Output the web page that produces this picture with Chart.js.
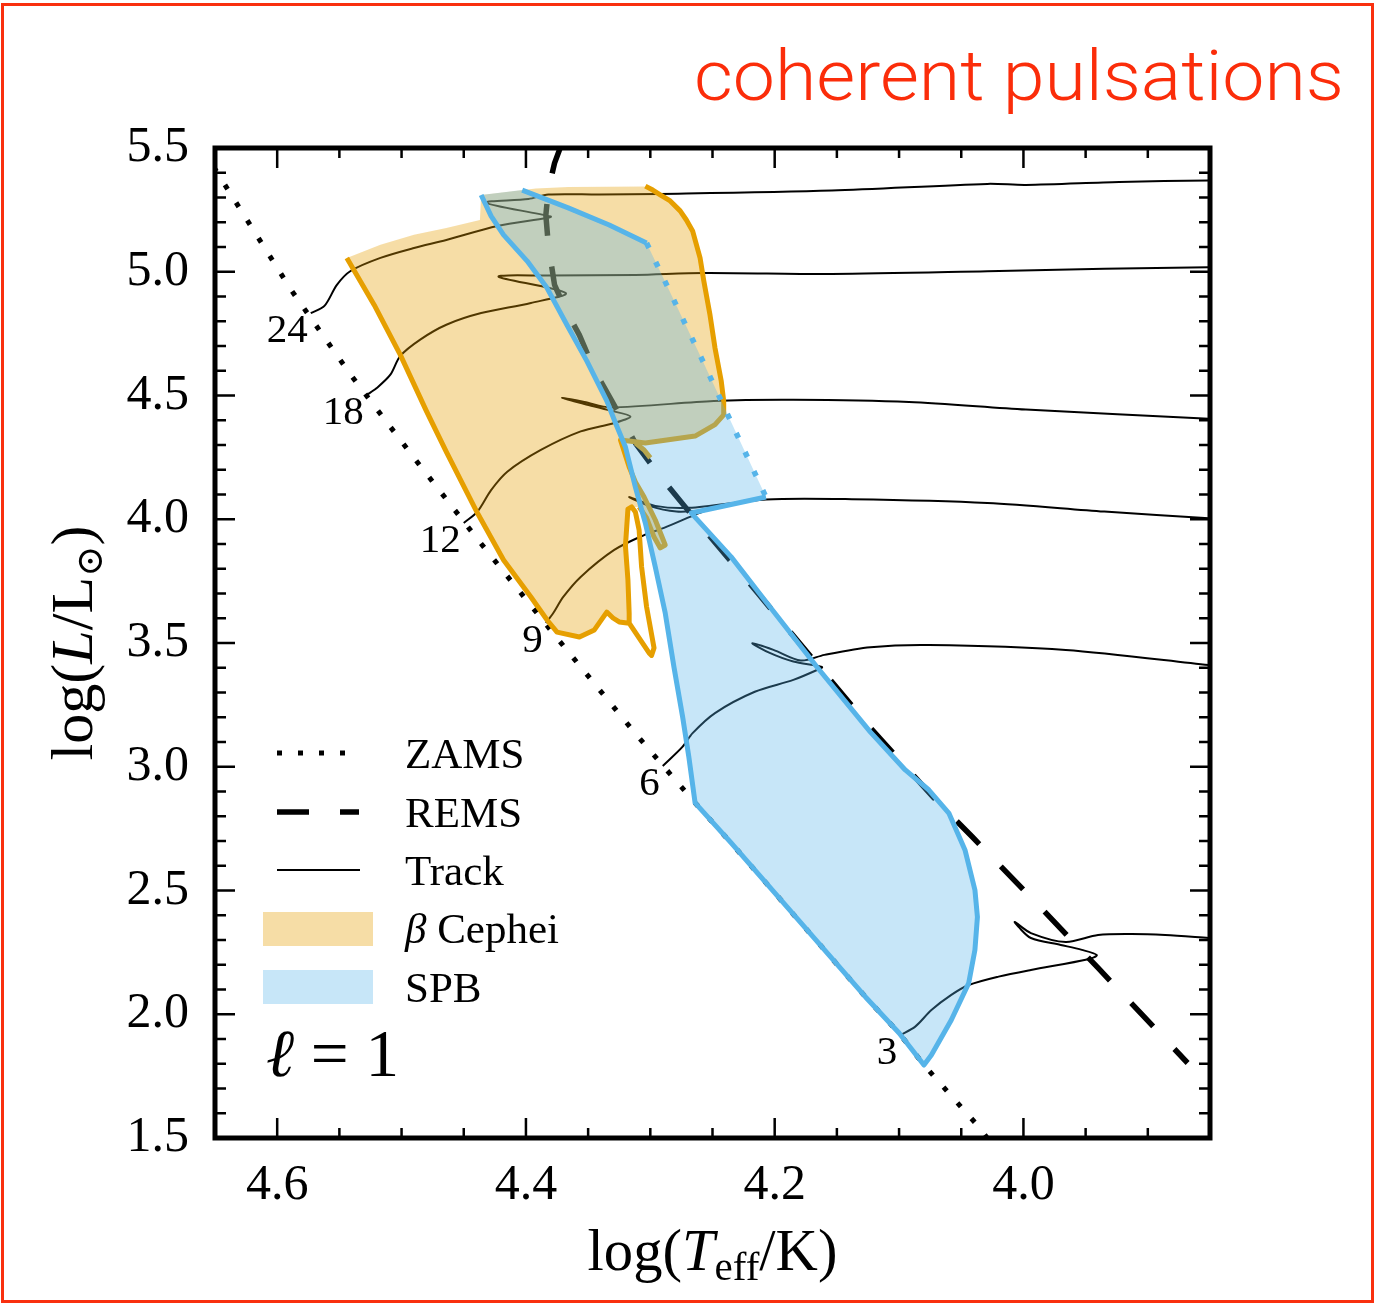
<!DOCTYPE html>
<html>
<head>
<meta charset="utf-8">
<script src="https://cdn.jsdelivr.net/npm/chart.js@4.4.1/dist/chart.umd.min.js"></script>
<style>
  html, body { margin: 0; padding: 0; background: #fff; }
  #wrap { position: relative; width: 1378px; height: 1306px; overflow: hidden; background: #fff; }
  #hr { position: absolute; left: 0; top: 0; }
  #frame { position: absolute; left: 1px; top: 3px; width: 1373px; height: 1300px;
           box-sizing: border-box; border: 3px solid #f9300f; pointer-events: none; }
</style>
</head>
<body>
<div id="wrap">
  <canvas id="hr" width="1378" height="1306"></canvas>
  <div id="frame"></div>
</div>
<script>
// ---- axis ticks ----
const xTicks = [4.6, 4.4, 4.2, 4.0];
const yTicks = [1.5, 2.0, 2.5, 3.0, 3.5, 4.0, 4.5, 5.0, 5.5];

// ---- reference lines: [log Teff, log L] ----
const zams = [[4.651,5.423],[4.643,5.359],[4.589,4.928],[4.541,4.584],[4.490,4.248],[4.439,3.920],
  [4.375,3.520],[4.311,3.128],[4.264,2.854],[4.235,2.692],[4.181,2.381],[4.127,2.070],[4.100,1.924],
  [4.080,1.795],[4.035,1.540],[4.028,1.492]];

const rems = [[4.371,5.520],[4.377,5.439],[4.382,5.330],[4.384,5.229],[4.382,5.108],[4.377,4.947],
  [4.368,4.846],[4.357,4.744],[4.345,4.603],[4.331,4.478],[4.312,4.308],[4.293,4.179],[4.272,4.050],
  [4.213,3.698],[4.166,3.415],[4.123,3.157],[4.072,2.874],[4.041,2.716],[3.988,2.441],[3.940,2.187],[3.868,1.803]];

// ---- evolutionary tracks (masses in solar units) ----
const trackMasses = ['24', '18', '12', '9', '6', '3'];
const track24 = [[4.573,4.833],[4.562,4.862],[4.552,4.947],[4.541,5.003],[4.517,5.056],[4.490,5.096],
  [4.464,5.128],[4.423,5.185],[4.383,5.217],[4.380,5.223],[4.432,5.279],[4.398,5.294],[4.382,5.312],
  [4.341,5.312],[4.292,5.314],[4.154,5.328],[4.029,5.355],[3.998,5.351],[3.923,5.363],[3.851,5.369]];
const track18 = [[4.528,4.502],[4.520,4.530],[4.509,4.584],[4.501,4.660],[4.485,4.726],[4.464,4.786],
  [4.436,4.833],[4.396,4.874],[4.368,4.914],[4.422,4.980],[4.383,4.985],[4.312,4.987],[4.257,4.995],
  [4.154,4.991],[4.029,5.002],[3.935,5.012],[3.851,5.018]];
const track12 = [[4.450,3.985],[4.439,4.031],[4.428,4.118],[4.415,4.192],[4.388,4.280],[4.356,4.355],
  [4.329,4.389],[4.316,4.415],[4.332,4.439],[4.353,4.466],[4.371,4.490],[4.353,4.474],[4.332,4.452],
  [4.249,4.478],[4.185,4.483],[4.092,4.474],[3.998,4.443],[3.851,4.406]];
const track9 = [[4.384,3.581],[4.378,3.621],[4.370,3.686],[4.356,3.767],[4.329,3.876],[4.305,3.936],
  [4.289,3.965],[4.263,4.021],[4.257,4.033],[4.279,4.031],[4.301,4.054],[4.317,4.090],[4.296,4.054],
  [4.269,4.046],[4.207,4.080],[4.138,4.081],[4.029,4.066],[3.935,4.031],[3.851,4.004]];
const track6 = [[4.290,3.003],[4.274,3.081],[4.266,3.136],[4.248,3.217],[4.216,3.303],[4.185,3.351],
  [4.166,3.391],[4.162,3.403],[4.185,3.425],[4.204,3.460],[4.218,3.499],[4.201,3.472],[4.179,3.429],
  [4.160,3.452],[4.123,3.483],[4.076,3.492],[3.966,3.472],[3.851,3.411]];
const track3 = [[4.099,1.916],[4.087,1.950],[4.074,2.017],[4.058,2.078],[4.044,2.118],[4.020,2.152],
  [3.994,2.179],[3.948,2.222],[3.941,2.239],[3.953,2.260],[3.970,2.280],[3.994,2.308],[4.004,2.353],
  [4.007,2.373],[3.994,2.328],[3.966,2.292],[3.940,2.320],[3.913,2.324],[3.886,2.320],[3.851,2.308]];
const tracks = [track24, track18, track12, track9, track6, track3];

// ---- beta Cephei instability region (l = 1) ----
const betaCepArea = [[4.544,5.056],[4.517,5.109],[4.490,5.149],[4.464,5.177],[4.437,5.209],[4.436,5.310],
  [4.392,5.336],[4.366,5.342],[4.305,5.344],[4.298,5.330],[4.292,5.311],[4.284,5.286],[4.276,5.246],
  [4.271,5.209],[4.266,5.165],[4.260,5.056],
  [4.257,4.963],[4.252,4.825],[4.248,4.692],[4.243,4.559],[4.241,4.478],[4.241,4.422],[4.248,4.382],
  [4.264,4.336],[4.304,4.308],[4.324,4.320],[4.317,4.211],[4.312,4.151],[4.305,4.090],[4.296,3.997],
  [4.288,3.896],[4.292,3.884],[4.297,3.928],[4.303,4.005],[4.309,4.050],[4.315,4.050],[4.318,4.041],
  [4.320,3.892],[4.318,3.755],[4.317,3.621],[4.317,3.580],[4.325,3.585],[4.330,3.601],[4.335,3.625],
  [4.345,3.553],[4.357,3.524],[4.375,3.544],[4.383,3.593],[4.396,3.686],[4.418,3.835],[4.439,4.025],
  [4.464,4.272],[4.480,4.437],[4.501,4.664],[4.522,4.866]];
const betaCepEdgeBlue = [[4.544,5.056],[4.522,4.866],[4.501,4.664],[4.480,4.437],[4.464,4.272],
  [4.439,4.025],[4.418,3.835],[4.396,3.686],[4.383,3.593],[4.375,3.544],[4.357,3.524],[4.345,3.553],
  [4.335,3.625],[4.330,3.601],[4.325,3.585],[4.317,3.580],[4.301,3.460],[4.299,3.450],[4.297,3.480],
  [4.303,3.646],[4.307,3.807],[4.309,3.957],[4.312,4.029],[4.315,4.050],[4.318,4.041],[4.320,3.892],
  [4.318,3.755],[4.317,3.621],[4.317,3.580]];
const betaCepEdgeRed = [[4.304,5.346],[4.298,5.330],[4.292,5.311],[4.284,5.286],[4.276,5.246],
  [4.271,5.209],[4.266,5.165],[4.260,5.056],
  [4.257,4.963],[4.252,4.825],[4.248,4.692],[4.243,4.559],[4.241,4.478],[4.241,4.422],[4.248,4.382],
  [4.264,4.336],[4.304,4.308],[4.324,4.320],[4.317,4.211],[4.312,4.151],[4.305,4.090],[4.296,3.997],
  [4.288,3.896],[4.292,3.884],[4.297,3.928],[4.303,4.005],[4.309,4.050]];
const betaCepEdgeHook = [[4.312,4.308],[4.305,4.280],[4.300,4.248]];

// ---- SPB instability region (l = 1) ----
const spbArea = [[4.436,5.310],[4.428,5.225],[4.418,5.149],[4.399,5.043],[4.383,4.934],[4.367,4.785],
  [4.351,4.639],[4.335,4.478],[4.328,4.389],[4.320,4.292],[4.312,4.130],[4.304,3.985],[4.296,3.807],
  [4.288,3.621],[4.281,3.403],[4.274,3.201],[4.269,3.039],[4.264,2.854],[4.235,2.692],[4.181,2.381],
  [4.127,2.070],[4.100,1.924],[4.080,1.795],[4.074,1.835],[4.058,1.977],[4.044,2.126],[4.039,2.260],
  [4.037,2.393],[4.039,2.502],[4.047,2.664],[4.060,2.813],[4.076,2.906],[4.095,2.987],[4.123,3.140],
  [4.166,3.403],[4.210,3.686],[4.235,3.848],[4.267,4.025],[4.207,4.090],[4.231,4.349],[4.259,4.652],
  [4.288,4.959],[4.303,5.116],[4.333,5.189],[4.366,5.258],[4.403,5.330]];
const spbEdgeTop = [[4.403,5.330],[4.366,5.258],[4.333,5.189],[4.303,5.116]];
const spbEdgeDotted = [[4.303,5.116],[4.288,4.959],[4.259,4.652],[4.231,4.349],[4.207,4.090]];
const spbEdgeMain = spbArea.slice(0, 39).reverse();

const legendLabels = ['ZAMS', 'REMS', 'Track', 'β Cephei', 'SPB'];
const modeLabel = [{ t: 'ℓ', italic: true }, { t: ' = 1' }];
const titleText = 'coherent pulsations';

// ---- styles ----
const ORANGE = '#E69F00';
const BLUE = '#56B4E9';
const ORANGE_FILL = 'rgba(230,159,0,0.35)';
const BLUE_FILL = 'rgba(86,180,233,0.33)';
const ZAMS_DASH = [5, 16];
const REMS_DASH = [32, 31];
const serif = '"Liberation Serif", "DejaVu Serif", serif';

const pts = arr => arr.map(([x, y]) => ({ x, y }));
const line = (arr, color, width, extra) => Object.assign({
  data: pts(arr), showLine: true, borderColor: color, borderWidth: width,
  pointRadius: 0, pointHoverRadius: 0, tension: 0, fill: false,
  borderJoinStyle: 'round', borderCapStyle: 'butt'
}, extra || {});

const datasets = [
  line(spbEdgeMain, BLUE, 5, { order: 1 }),
  line(spbEdgeTop, BLUE, 5, { order: 1 }),
  line(spbEdgeDotted, BLUE, 5.5, { order: 1, borderDash: [5.5, 15.5] }),
  { data: pts(spbArea), showLine: false, pointRadius: 0, areaColor: BLUE_FILL, order: 2 },
  line(betaCepEdgeBlue, ORANGE, 5, { order: 3 }),
  line(betaCepEdgeRed, ORANGE, 5, { order: 3 }),
  line(betaCepEdgeHook, ORANGE, 5, { order: 3 }),
  { data: pts(betaCepArea), showLine: false, pointRadius: 0, areaColor: ORANGE_FILL, order: 4 },
  line(rems, '#000', 5.5, { order: 5, borderDash: REMS_DASH }),
  line(zams, '#000', 5, { order: 6, borderDash: ZAMS_DASH }),
  ...tracks.map(t => line(t, '#000', 2, { order: 7, tension: 0.3 }))
];

// closed region fill from the dataset's own point elements
const regionFill = {
  id: 'regionFill',
  beforeDatasetDraw(chart, args) {
    const ds = chart.data.datasets[args.index];
    if (!ds.areaColor) return;
    const { ctx, chartArea: a } = chart;
    const p = args.meta.data;
    ctx.save();
    ctx.beginPath();
    ctx.rect(a.left, a.top, a.right - a.left, a.bottom - a.top);
    ctx.clip();
    ctx.beginPath();
    p.forEach((e, i) => i ? ctx.lineTo(e.x, e.y) : ctx.moveTo(e.x, e.y));
    ctx.closePath();
    ctx.fillStyle = ds.areaColor;
    ctx.fill();
    ctx.restore();
  }
};

function fontOf(p, size) {
  return (p.italic ? 'italic ' : '') + (size * (p.scale || 1)).toFixed(1) + 'px ' + serif;
}
function richWidth(ctx, parts, size) {
  let w = 0;
  for (const p of parts) { ctx.font = fontOf(p, size); w += ctx.measureText(p.t).width; }
  return w;
}
function drawRich(ctx, parts, x, y, size) {
  let cx = x;
  for (const p of parts) {
    ctx.font = fontOf(p, size);
    ctx.fillText(p.t, cx, y + (p.dy || 0) * size);
    cx += ctx.measureText(p.t).width;
  }
}

// spines, inward ticks on all sides, labels, legend, title
const decorations = {
  id: 'decorations',
  afterDatasetsDraw(chart) {
    const { ctx, chartArea: a, scales: { x, y } } = chart;
    ctx.save();
    ctx.strokeStyle = '#000';
    ctx.lineCap = 'butt';
    ctx.lineWidth = 2.5;
    ctx.beginPath();
    for (let k = 78; k <= 92; k++) {
      const px = x.getPixelForValue(k * 0.05);
      const len = k % 4 === 0 ? 20 : 10;
      ctx.moveTo(px, a.bottom); ctx.lineTo(px, a.bottom - len);
      ctx.moveTo(px, a.top); ctx.lineTo(px, a.top + len);
    }
    for (let k = 16; k <= 54; k++) {
      const py = y.getPixelForValue(k * 0.1);
      const len = k % 5 === 0 ? 20 : 11;
      ctx.moveTo(a.left, py); ctx.lineTo(a.left + len, py);
      ctx.moveTo(a.right, py); ctx.lineTo(a.right - len, py);
    }
    ctx.stroke();
    ctx.lineWidth = 5;
    ctx.strokeRect(a.left, a.top, a.right - a.left, a.bottom - a.top);

    // mass labels at the start of each track
    ctx.fillStyle = '#000';
    ctx.textAlign = 'right';
    ctx.textBaseline = 'alphabetic';
    ctx.font = '41px ' + serif;
    tracks.forEach((t, i) => {
      const px = x.getPixelForValue(t[0][0]);
      const py = y.getPixelForValue(t[0][1]);
      ctx.fillText(trackMasses[i], px - 3, py + 29);
    });

    // legend
    ctx.textAlign = 'left';
    const lx0 = 277, lx1 = 362, tx = 405;
    const rows = [768, 827, 885, 943, 1002];
    ctx.lineWidth = 5;
    ctx.setLineDash(ZAMS_DASH);
    ctx.beginPath(); ctx.moveTo(lx0, rows[0] - 15); ctx.lineTo(348, rows[0] - 15); ctx.stroke();
    ctx.lineWidth = 5.5;
    ctx.setLineDash(REMS_DASH);
    ctx.beginPath(); ctx.moveTo(lx0, rows[1] - 15); ctx.lineTo(lx1 - 3, rows[1] - 15); ctx.stroke();
    ctx.setLineDash([]);
    ctx.lineWidth = 2;
    ctx.beginPath(); ctx.moveTo(lx0, rows[2] - 15); ctx.lineTo(lx1 - 2, rows[2] - 15); ctx.stroke();
    ctx.fillStyle = ORANGE_FILL;
    ctx.fillRect(263, rows[3] - 31, 110, 34);
    ctx.fillStyle = BLUE_FILL;
    ctx.fillRect(263, rows[4] - 32, 110, 34);
    ctx.fillStyle = '#000';
    ctx.font = '43px ' + serif;
    legendLabels.forEach((lab, i) => {
      if (i === 3) {
        ctx.font = 'italic 43px ' + serif;
        ctx.fillText('β', tx, rows[i]);
        const w = ctx.measureText('β ').width;
        ctx.font = '43px ' + serif;
        ctx.fillText(lab.slice(2), tx + w, rows[i]);
      } else {
        ctx.fillText(lab, tx, rows[i]);
      }
    });

    // degree of the modes
    const ms = 58 * 133 / richWidth(ctx, modeLabel, 58);
    drawRich(ctx, modeLabel, 266, 1076, ms);

    // axis titles
    const xl = [{ t: 'log(' }, { t: 'T', italic: true }, { t: 'eff', scale: 0.7, dy: 0.17 }, { t: '/K)' }];
    const xs = 56 * 250 / richWidth(ctx, xl, 56);
    const xw = richWidth(ctx, xl, xs);
    drawRich(ctx, xl, (a.left + a.right) / 2 - xw / 2, 1270, xs);

    const yl = [{ t: 'log(' }, { t: 'L', italic: true }, { t: '/L' }, { t: '⊙', scale: 0.62, dy: 0.17 }, { t: ')' }];
    const ys = 56 * 235 / richWidth(ctx, yl, 56);
    const yw = richWidth(ctx, yl, ys);
    ctx.save();
    ctx.translate(92, (a.top + a.bottom) / 2);
    ctx.rotate(-Math.PI / 2);
    drawRich(ctx, yl, -yw / 2, 0, ys);
    ctx.restore();

    // headline
    ctx.fillStyle = '#fb2d0a';
    ctx.font = '300 70px Roboto, "Liberation Sans", sans-serif';
    const tw = ctx.measureText(titleText).width;
    ctx.save();
    ctx.translate(1344, 100);
    ctx.scale(650 / tw, 1);
    ctx.textAlign = 'right';
    ctx.fillText(titleText, 0, 0);
    ctx.restore();
    ctx.restore();
  }
};

new Chart(document.getElementById('hr'), {
  type: 'scatter',
  data: { datasets },
  plugins: [regionFill, decorations],
  options: {
    responsive: false,
    devicePixelRatio: 1,
    animation: false,
    events: [],
    layout: { padding: { left: 0, right: 168, top: 148, bottom: 0 } },
    plugins: { legend: { display: false }, tooltip: { enabled: false }, title: { display: false } },
    scales: {
      x: {
        type: 'linear', min: 3.85, max: 4.65, reverse: true,
        grid: { display: false }, border: { display: false },
        afterBuildTicks: s => { s.ticks = xTicks.map(value => ({ value })); },
        afterFit: s => { s.height = 168; },
        ticks: { color: '#000', padding: 10, font: { family: serif, size: 50 },
                 callback: v => Number(v).toFixed(1) }
      },
      y: {
        type: 'linear', min: 1.5, max: 5.5,
        grid: { display: false }, border: { display: false },
        afterBuildTicks: s => { s.ticks = yTicks.map(value => ({ value })); },
        afterFit: s => { s.width = 215; },
        ticks: { color: '#000', padding: 18, font: { family: serif, size: 50 },
                 callback: v => Number(v).toFixed(1) }
      }
    }
  }
});
</script>
</body>
</html>
